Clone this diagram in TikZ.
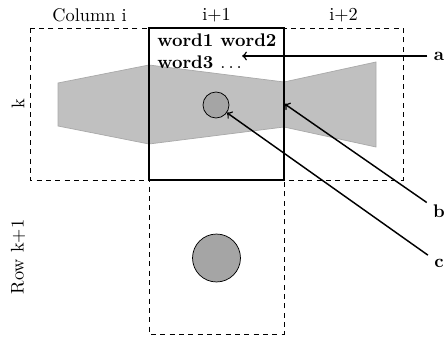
\documentclass[tikz,border=0pt]{standalone}
\usepackage{tikz}
\usetikzlibrary{positioning}
\definecolor{greyfill}{RGB}{192, 192, 192}
\definecolor{greyline}{RGB}{170, 170, 170}
\definecolor{blob}{RGB}{165, 165, 165}

\begin{document}
\begin{tikzpicture}[x=0.5464pt, y=-0.5464pt]
        \useasboundingbox (0,0) rectangle (446,340);
        % Grid cells around the current one
        \fill[greyfill, draw=greyline] (58,83) -- (149,65) -- (284,82) -- (376,62) -- (376,147) -- (284,127) -- (149,144) -- (58,126) -- cycle;
        \draw[line width=0.5pt, dash pattern=on 2.7pt off 2.4pt] (30,28) rectangle (403,180);
        \draw[line width=0.5pt, dash pattern=on 2.7pt off 2.4pt] (149,28) rectangle (284,334);
        \node[draw, thick, rectangle, minimum width=73.8pt, minimum height=83.05pt, inner sep=0] (cell) at (216.5,104) {};
        
        \node[draw, circle, fill=blob, minimum size=14.2pt, inner sep=0] (dot) at (216,105) {};
        \node[draw, circle, fill=blob, minimum size=26.2pt, inner sep=0] (blobk) at (216.5,258) {};
        
        \node[anchor=base west, inner sep=0] (line1) at (157,47) {\bf word1 word2};
        \node[anchor=base west, inner sep=0] (line2) at (157,69) {\bf word3 $\ldots$};
        
        % Headers
        \node (coli) at (89.5,15) {Column i};
        \node (colj) at (216.5,15) {i+1};
        \node (colk) at (343.5,15) {i+2};
        \node[rotate=90] (rowk) at (18,104) {k};
        \node[rotate=90] (rowl) at (18,257) {Row k+1};
        
        % Callouts
        \node (a) at (439,56) {\bf a};
        \node (b) at (439,211) {\bf b};
        \node (c) at (439,263) {\bf c};
        \draw[->, thick] (a) -- (a -| line2.east);
        \draw[->, thick] (b) -- (cell.east);
        \draw[->, thick] (c) -- (dot);
    \end{tikzpicture}
\end{document}
